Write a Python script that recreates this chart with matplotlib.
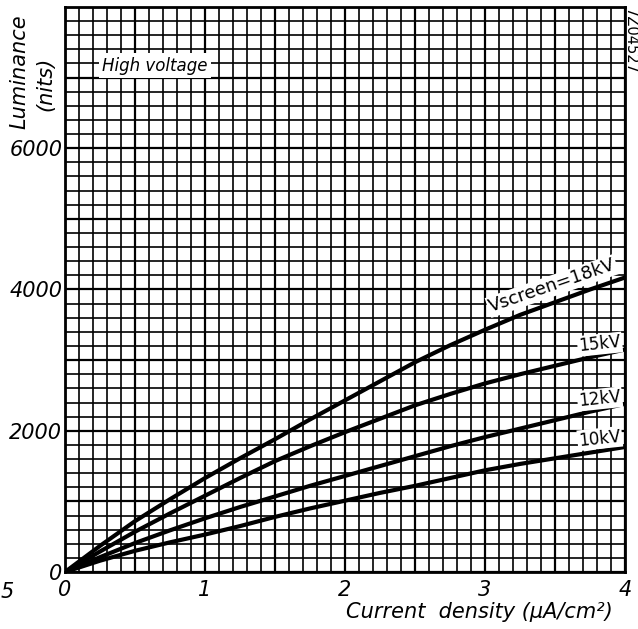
import numpy as np
import matplotlib
matplotlib.use("Agg")
import matplotlib.pyplot as plt
from matplotlib.ticker import MultipleLocator, FuncFormatter

# Luminance vs. current density for several screen voltages
current_density = [0, 0.25, 0.5, 0.75, 1.0, 1.25, 1.5, 1.75, 2.0,
                   2.25, 2.5, 2.75, 3.0, 3.25, 3.5, 3.75, 4.0]
lum_18kv = [0, 370, 720, 1030, 1330, 1610, 1880, 2160, 2430,
            2700, 2970, 3210, 3430, 3640, 3820, 4000, 4170]
lum_15kv = [0, 290, 570, 830, 1080, 1330, 1570, 1780, 1980,
            2170, 2360, 2520, 2670, 2800, 2920, 3040, 3150]
lum_12kv = [0, 210, 410, 590, 760, 920, 1070, 1220, 1360,
            1500, 1640, 1780, 1910, 2030, 2150, 2270, 2380]
lum_10kv = [0, 160, 300, 420, 530, 650, 780, 900, 1010,
            1120, 1220, 1330, 1440, 1530, 1610, 1690, 1770]

series = [lum_18kv, lum_15kv, lum_12kv, lum_10kv]
series_labels = ["Vscreen=18kV", "15kV", "12kV", "10kV"]
x_tick_labels = ["0", "1", "2", "3", "4"]
y_tick_labels = ["0", "2000", "4000", "6000"]

FONT = "DejaVu Sans"

fig = plt.figure(figsize=(6.38, 6.29), dpi=100)
ax = fig.add_axes([65 / 638, 1 - 572 / 629, 560 / 638, 565 / 629])

ax.set_xlim(0, 4)
ax.set_ylim(0, 8000)

# graph-paper grid: fine 0.1 / 200 lines, heavier 0.5 / 1000 lines
ax.xaxis.set_major_locator(MultipleLocator(0.5))
ax.xaxis.set_minor_locator(MultipleLocator(0.1))
ax.yaxis.set_major_locator(MultipleLocator(1000))
ax.yaxis.set_minor_locator(MultipleLocator(200))
ax.grid(which="minor", color="black", lw=1.2, zorder=1)
ax.grid(which="major", color="black", lw=1.6, zorder=1)
ax.set_axisbelow(True)


def fmt_x(v, _):
    s = f"{v:g}"
    return s if s in x_tick_labels else ""


def fmt_y(v, _):
    s = f"{v:g}"
    return s if s in y_tick_labels else ""


ax.xaxis.set_major_formatter(FuncFormatter(fmt_x))
ax.yaxis.set_major_formatter(FuncFormatter(fmt_y))
ax.tick_params(which="both", length=0)
ax.tick_params(axis="x", pad=6)
ax.tick_params(axis="y", pad=2)
for lab in ax.get_xticklabels() + ax.get_yticklabels():
    lab.set_fontfamily(FONT)
    lab.set_fontstyle("italic")
    lab.set_fontsize(15)

for sp in ax.spines.values():
    sp.set_linewidth(2.0)

for ys in series:
    ax.plot(current_density, ys, color="black", lw=3.0,
            solid_capstyle="round", zorder=3)

box = dict(facecolor="white", edgecolor="none", pad=1.0)
ax.text(3.48, 4050, series_labels[0], rotation=19, ha="center", va="center",
        fontsize=13, family=FONT, bbox=box, zorder=4, rotation_mode="anchor")
label_pos = [(3.82, 3225), (3.82, 2450), (3.82, 1890)]
for (lx, ly), txt in zip(label_pos, series_labels[1:]):
    ax.text(lx, ly, txt, rotation=6, ha="center", va="center",
            fontsize=12, family=FONT, bbox=box, zorder=4,
            rotation_mode="anchor")

ax.text(0.643, 7165, "High voltage", ha="center", va="center", fontsize=12,
        family=FONT, style="italic", weight="medium",
        bbox=dict(facecolor="white", edgecolor="none", pad=2.5), zorder=4)

# axis titles
fig.text(19 / 638, 1 - 72 / 629, "Luminance", rotation=90, ha="center",
         va="center", fontsize=15, family=FONT, style="italic")
fig.text(45 / 638, 1 - 84 / 629, "(nits)", rotation=90, ha="center",
         va="center", fontsize=15, family=FONT, style="italic")
fig.text(613 / 638, 1 - 612 / 629, "Current  density (\u03bcA/cm\u00b2)",
         ha="right", va="center", fontsize=15, family=FONT, style="italic")

# drawing reference number and margin remnant
fig.text(630 / 638, 1 - 41 / 629, "7Z04527", rotation=-90, ha="center",
         va="center", fontsize=10.5, family=FONT)
fig.text(1 / 638, 1 - 592 / 629, "5", ha="left", va="center",
         fontsize=15, family=FONT, style="italic")

fig.savefig("out.png", dpi=100, facecolor="white")
